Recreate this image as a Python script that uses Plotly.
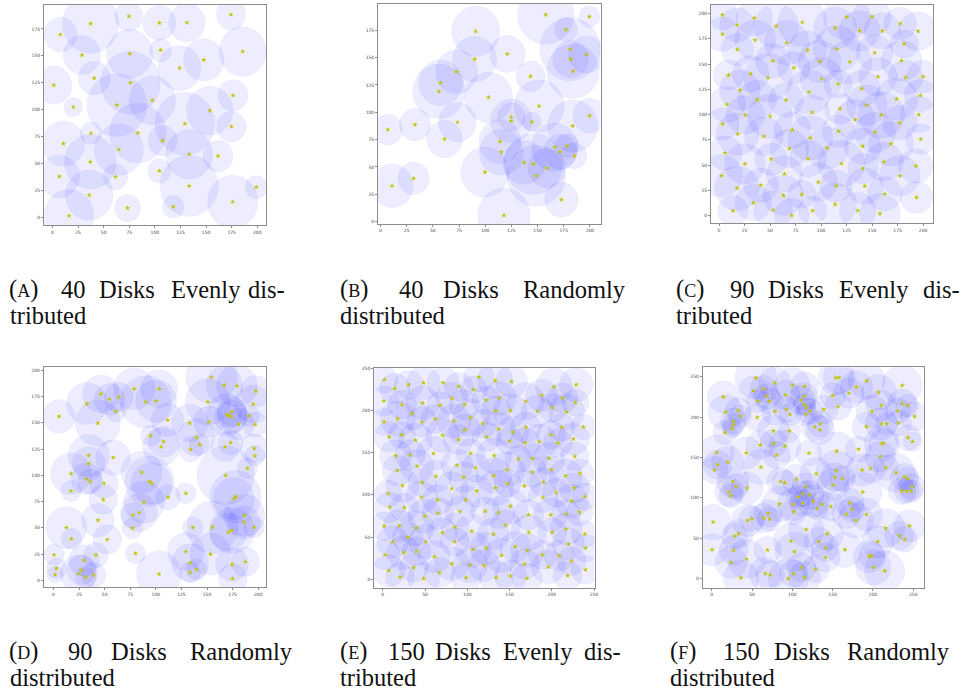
import plotly.graph_objects as go

# ---------------- data ----------------
TICKS_200 = [0, 25, 50, 75, 100, 125, 150, 175, 200]
TICKS_175 = [0, 25, 50, 75, 100, 125, 150, 175]
TICKS_250 = [0, 50, 100, 150, 200, 250]

A_x = [74.6, 174.4, 37.3, 104.4, 131.3, 7.8, 28.8, 75.5, 105.7, 185.7, 147.8, 124.1, 40.8, 76.2, 1.3, 176.3, 97.6, 20.4, 62.9, 153.6,
       129.3, 174.7, 37.6, 83.3, 10.7, 107.6, 64.8, 37.0, 133.5, 161.7, 6.8, 61.6, 104.4, 133.5, 36.0, 199.0, 176.0, 118.0, 73.3, 16.2]
A_y = [186.7, 188.3, 179.9, 180.6, 180.9, 169.8, 150.6, 151.9, 155.2, 154.0, 146.3, 138.6, 129.3, 125.0, 122.8, 113.3, 108.6, 102.5, 104.3, 99.1,
       87.0, 84.3, 78.1, 78.4, 68.5, 71.3, 63.0, 51.5, 58.6, 56.8, 38.0, 37.7, 43.2, 29.3, 20.7, 28.1, 14.5, 9.9, 8.6, 1.5]
A_r = [13.6, 14.3, 27.6, 16.2, 17.8, 16.2, 18.2, 22.7, 10.7, 23.0, 19.8, 21.1, 15.6, 29.2, 17.8, 14.6, 22.7, 9.1, 29.2, 22.7,
       29.2, 14.3, 10.4, 27.6, 21.0, 14.3, 24.0, 25.3, 23.0, 14.6, 19.8, 12.0, 11.3, 28.5, 23.3, 10.7, 24.6, 10.4, 12.6, 24.3]

B_x = [157.8, 199.4, 91.0, 177.2, 181.0, 121.1, 196.8, 90.0, 181.6, 183.8, 72.6, 143.3, 57.4, 55.8, 103.3, 151.5, 199.7, 124.9, 124.9, 144.5,
       73.5, 33.0, 7.0, 183.5, 61.2, 114.1, 178.1, 166.4, 115.4, 171.5, 185.1, 137.2, 146.1, 159.1, 99.8, 148.7, 31.7, 11.1, 172.7, 117.9]
B_y = [189.3, 187.5, 174.1, 175.6, 157.7, 153.4, 152.8, 148.6, 148.6, 137.6, 137.0, 132.8, 127.0, 119.1, 113.6, 105.7, 96.9, 95.7, 92.1, 91.2,
       90.9, 88.7, 84.2, 87.5, 75.4, 73.2, 69.3, 68.1, 63.5, 63.8, 60.2, 54.1, 52.9, 48.9, 45.3, 41.9, 39.5, 32.8, 20.1, 5.8]
B_r = [27, 10, 23, 11, 29, 17, 17, 21, 17, 25, 20, 14, 21, 25, 23, 24, 16, 13, 20, 9,
       18, 15, 14, 24, 17, 20, 11, 22, 21, 16, 12, 20, 28, 18, 23, 28, 15, 20, 16, 25]

C_x = [3.3, 34.5, 125.2, 149.9, 17.6, 56.3, 81.6, 113.8, 137.6, 160.0, 177.6, 195.1,
       3.3, 35.4, 66.3, 181.5, 17.9, 86.5, 115.4, 152.5, 52.7, 98.5, 128.1, 178.9,
       73.2, 9.4, 30.9, 48.1, 100.5, 155.8, 182.8, 200.0, 116.7, 20.5, 139.8, 88.1,
       37.4, 65.7, 174.0, 197.4, 7.8, 144.7, 118.7, 91.4, 25.7, 50.1, 159.0, 195.8,
       3.6, 133.3, 177.2, 18.2, 43.9, 71.9, 89.4, 117.1, 152.8, 197.7,
       5.9, 68.9, 106.0, 140.8, 168.5,
       25.4, 51.1, 87.2, 120.0, 161.6, 192.8,
       2.3, 64.1, 141.1, 177.2,
       97.2, 17.6, 41.0, 114.8, 142.8,
       63.1, 81.0, 162.3,
       33.5, 113.8, 193.5,
       13.7, 53.0, 71.2, 91.7, 135.9, 157.7]
C_y = [198.7, 195.7, 196.7, 197.0, 188.8, 187.5, 191.4, 185.5, 182.9, 182.9, 190.1, 182.6,
       179.6, 173.7, 171.1, 170.1, 164.5, 163.8, 165.1, 161.2, 153.3, 152.6, 152.3, 153.3,
       146.4, 139.1, 140.5, 136.5, 135.5, 137.5, 136.8, 137.5, 130.3, 124.3, 125.7, 122.4,
       114.8, 114.5, 115.5, 118.8, 110.2, 109.5, 105.9, 102.3, 99.7, 98.4, 99.7, 100.0,
       90.8, 95.1, 92.1, 80.9, 78.6, 84.9, 77.0, 83.6, 82.6, 75.7,
       62.2, 66.4, 67.1, 68.8, 71.1,
       51.3, 55.9, 56.3, 51.6, 53.3, 49.3,
       39.5, 41.4, 46.7, 39.5,
       33.2, 27.3, 30.3, 29.6, 29.3,
       20.1, 21.1, 21.7,
       12.8, 11.2, 18.1,
       4.9, 5.6, 0.0, 4.9, 4.9, 2.0]
C_r = [15, 18, 23, 19, 17, 22, 24, 21, 20, 18, 16, 19,
       17, 20, 22, 14, 16, 19, 23, 18, 17, 21, 22, 20,
       16, 15, 18, 24, 21, 19, 17, 16, 14, 20, 18, 22,
       19, 17, 21, 16, 18, 20, 15, 17, 19, 22, 23, 18,
       16, 20, 17, 21, 19, 18, 22, 16, 20, 15,
       17, 19, 21, 18, 22,
       20, 16, 18, 23, 19, 17,
       21, 18, 15, 20,
       19, 22, 17, 16, 18,
       20, 14, 17,
       18, 21, 16,
       15, 19, 17, 14, 18, 20]

D_x = [154.3, 166.9, 179.3, 197.7, 78.8, 103.4, 46.4, 54.8, 63.8, 90.1, 100.2, 150.7, 32.7, 195.1, 60.9, 5.5, 169.2, 174.4, 171.5, 173.4,
       191.2, 111.5, 43.4, 133.2, 151.7, 180.9, 197.1, 95.0, 139.7, 107.6, 142.6, 105.3, 173.1, 167.6, 133.9, 196.1, 34.4, 58.3, 196.8, 34.4,
       189.3, 86.2, 17.2, 168.2,
       32.4, 35.7, 49.3, 93.7, 95.9,
       17.2, 129.3, 111.8, 178.0, 176.3, 48.6, 88.5,
       83.6, 77.8, 186.4, 186.1, 43.4,
       12.6, 77.1, 136.1, 155.3, 196.1, 174.4, 170.8,
       17.5, 52.5,
       0.6, 80.1, 129.3, 153.3, 41.5, 29.8,
       2.9, 133.5, 187.4, 174.4, 27.2, 139.7,
       25.0, 1.6, 39.2, 31.4, 103.1, 133.5, 175.0]
D_y = [193.6, 185.9, 185.3, 180.1, 182.4, 182.4, 177.6, 172.4, 174.4, 169.9, 170.8, 169.9, 168.3, 167.8, 160.9, 156.1, 157.7, 160.6, 157.1, 155.8,
       156.7, 152.6, 149.7, 149.7, 151.0, 148.7, 148.4, 137.8, 136.2, 132.1, 129.2, 127.2, 131.1, 127.2, 124.7, 125.6, 118.9, 117.0, 118.6, 111.2,
       106.7, 102.9, 101.6, 100.0,
       96.8, 94.0, 92.4, 94.3, 92.4,
       85.1, 82.9, 79.1, 79.7, 77.8, 76.9, 74.4,
       64.6, 62.0, 62.0, 55.4, 57.3,
       50.3, 49.7, 50.3, 50.6, 50.6, 47.5, 45.9,
       39.6, 38.9,
       24.4, 25.6, 27.5, 25.0, 24.1, 19.0,
       11.4, 16.8, 17.7, 15.2, 9.8, 10.4,
       6.3, 5.4, 5.1, 3.2, 6.0, 7.6, 1.6]
D_r = [25, 18, 20, 15, 20, 18, 18, 15, 14, 25, 20, 22, 20, 18, 10, 16, 20, 14, 12, 16,
       10, 16, 22, 18, 15, 15, 12, 10, 18, 15, 10, 18, 12, 14, 12, 14, 20, 17, 10, 16,
       10, 20, 20, 28,
       15, 12, 14, 24, 20,
       10, 10, 12, 25, 20, 14, 20,
       18, 12, 20, 16, 16,
       20, 10, 10, 25, 10, 22, 18,
       10, 14,
       10, 10, 18, 20, 12, 15,
       10, 18, 14, 16, 14, 10,
       18, 8, 12, 10, 22, 10, 14]

E_x = [2.0, 14.1, 30.6, 48.3, 71.4, 89.9, 107.5, 113.8, 133.0, 152.3, 202.5, 228.8,
       1.2, 22.8, 47.1, 67.9, 81.6, 96.5, 122.4, 137.7, 169.1, 187.9, 212.6, 200.8, 227.9,
       34.5, 17.7, 1.6, 46.3, 62.0, 84.0, 104.0, 133.8, 151.0, 182.8, 217.7,
       118.3, 96.8, 137.0, 169.1, 211.4, 237.3,
       7.5, 22.4, 70.6, 153.7, 199.2,
       38.8, 89.5, 123.1, 225.5,
       149.8, 168.3, 185.1, 207.1,
       15.3, 32.2, 60.0, 103.9, 131.8, 160.5, 177.1, 196.8, 227.2,
       17.0, 40.4, 87.7, 109.9, 147.0, 176.6, 199.2, 233.2,
       23.2, 46.7, 62.8, 95.8, 131.5, 147.6, 167.6, 190.3, 216.2, 226.5,
       6.3, 45.9, 65.1, 81.6, 98.1, 111.1, 133.4, 189.6, 205.3, 223.3, 239.0,
       8.2, 25.5, 49.8, 65.1, 91.4, 121.3, 137.0, 151.1, 172.3, 198.6, 216.6, 232.7,
       1.6, 19.6, 39.6, 70.6, 85.2, 105.2, 130.7, 145.2, 172.7, 200.5, 217.0, 239.0,
       11.8, 29.4, 50.6, 85.2, 106.8, 122.4, 156.6, 171.1, 189.2, 219.8, 239.8,
       2.7, 24.7, 40.0, 61.2, 140.5, 208.8, 223.3,
       7.1, 36.5, 67.1, 81.6, 103.2, 119.7, 167.6, 195.8, 239.8,
       20.4, 48.3, 98.5, 134.2, 151.1, 170.7, 218.6]
E_y = [236.6, 225.9, 230.6, 232.6, 232.6, 228.3, 224.7, 239.7, 235.4, 234.2, 227.9, 230.6,
       211.3, 206.9, 208.9, 206.1, 214.4, 206.9, 212.1, 214.4, 210.9, 218.0, 214.8, 203.4, 209.3,
       196.2, 190.3, 186.4, 186.4, 189.9, 187.5, 191.5, 199.4, 199.8, 199.0, 198.2,
       184.4, 176.9, 178.1, 180.0, 180.0, 180.4,
       168.6, 171.0, 170.6, 174.1, 171.0,
       164.7, 165.4, 168.6, 166.2,
       163.5, 161.5, 163.0, 161.5,
       146.4, 147.2, 149.2, 149.2, 146.4, 142.5, 142.9, 143.3, 145.6,
       128.9, 134.1, 135.3, 132.1, 129.8, 127.0, 129.8, 125.5,
       111.0, 114.6, 122.0, 120.9, 122.8, 113.4, 110.6, 115.0, 122.4, 108.3,
       101.6, 97.2, 94.1, 107.5, 94.1, 104.7, 108.3, 96.9, 102.8, 92.5, 98.0,
       85.4, 85.0, 74.8, 78.3, 80.3, 80.7, 79.1, 86.6, 76.4, 76.4, 77.6, 79.5,
       63.0, 63.4, 60.6, 55.1, 61.8, 57.1, 53.5, 64.2, 55.5, 55.5, 59.8, 53.5,
       44.5, 49.6, 44.5, 44.5, 35.4, 37.0, 38.6, 33.9, 29.1, 41.7, 37.0,
       29.1, 31.5, 33.1, 26.8, 28.3, 28.0, 21.7,
       10.2, 13.8, 7.9, 18.5, 16.9, 16.5, 18.1, 14.6, 11.4,
       2.8, 0.8, 2.0, 2.0, 3.9, 1.2, 4.3]
E_r = [16, 18, 17, 20, 19, 17, 16, 18, 21, 19, 22, 20,
       18, 17, 20, 16, 19, 18, 17, 20, 22, 19, 18, 17, 16,
       19, 21, 16, 18, 17, 20, 22, 18, 20, 19, 21,
       17, 19, 20, 18, 16, 15,
       18, 16, 20, 19, 17,
       20, 18, 17, 19,
       16, 18, 21, 17,
       19, 18, 20, 17, 21, 16, 18, 19, 17,
       18, 20, 19, 17, 21, 18, 16, 17,
       20, 17, 19, 18, 21, 16, 19, 17, 20, 18,
       16, 19, 18, 20, 17, 19, 21, 18, 17, 20, 16,
       18, 17, 20, 19, 18, 17, 19, 21, 18, 20, 17, 16,
       17, 19, 21, 18, 17, 20, 19, 18, 21, 17, 19, 16,
       19, 18, 20, 17, 21, 19, 18, 20, 17, 19, 16,
       18, 20, 17, 19, 20, 18, 17,
       19, 17, 18, 20, 21, 19, 18, 20, 17,
       17, 19, 18, 20, 19, 18, 17]

F_x = [54.8, 154.0, 158.1, 78.3, 100.5, 115.4, 192.3, 236.4,
       51.5, 64.3, 179.6,
       14.4, 68.4, 91.5, 114.5, 149.9, 170.1, 207.1,
       57.2, 71.6, 110.8, 114.9, 117.4, 121.9, 116.9,
       156.9, 210.5, 236.4, 243.0,
       92.3, 78.7, 97.2, 138.8, 198.9, 230.6,
       17.3, 32.9, 35.4, 56.4, 251.6,
       26.8, 27.2, 25.1, 16.5,
       128.1, 134.7, 134.3, 210.5, 217.1, 231.9, 191.9,
       76.6, 96.4, 243.4, 249.2,
       60.5, 77.0, 90.6, 211.3, 212.9, 182.0,
       6.2, 42.8, 80.6, 120.6, 154.9, 209.2,
       19.8, 7.4, 3.3, 61.0, 154.4, 186.6, 197.3, 216.2, 228.6, 129.7,
       238.9, 243.4, 26.4, 30.1, 21.4, 23.9, 43.7, 85.3, 90.6, 105.4,
       152.8, 162.3, 150.3, 116.6, 112.8, 107.1, 121.5, 126.0, 112.8, 137.1, 130.5, 147.9, 100.9, 101.7, 84.4,
       187.4, 171.3, 173.8, 167.2, 191.9, 178.7,
       236.0, 241.8, 248.4, 247.5,
       44.5, 49.8, 64.7, 70.0, 71.7, 1.6,
       117.4, 143.3, 33.4, 28.4, 215.8, 245.5, 232.7, 239.3,
       98.4, 133.0, 205.9, 140.9, 102.6, 165.2, 0.4, 27.2, 69.2,
       141.3, 195.6, 198.5, 43.2, 23.9, 200.6, 111.6, 128.9, 214.6,
       66.3, 72.5, 101.3, 36.2, 95.1, 115.3]
F_y = [248.4, 248.8, 248.8, 242.2, 239.3, 238.1, 245.1, 239.3,
       232.8, 234.8, 237.3,
       225.0, 225.8, 227.5, 225.8, 226.6, 229.5, 230.7,
       219.7, 219.7, 220.9, 215.6, 211.9, 207.4, 203.3,
       213.1, 214.3, 216.8, 214.3,
       209.4, 207.0, 203.3, 209.4, 207.0, 207.8,
       205.7, 208.2, 201.2, 199.6, 200.8,
       195.1, 190.6, 185.7, 180.7,
       187.7, 191.4, 184.0, 191.4, 191.8, 192.6, 188.1,
       182.8, 182.8, 174.6, 169.7,
       165.6, 167.6, 163.9, 167.2, 167.6, 160.2,
       156.1, 155.7, 152.9, 155.3, 157.8, 151.2,
       144.3, 141.0, 134.4, 138.1, 133.6, 134.4, 136.5, 137.3, 131.1, 129.9,
       125.9, 123.9, 120.2, 114.0, 107.4, 102.5, 111.9, 120.2, 118.5, 123.0,
       125.5, 123.9, 116.0, 114.0, 105.3, 101.2, 103.7, 95.9, 93.4, 91.8, 86.8, 89.3, 91.8, 82.7, 92.2,
       107.4, 93.8, 86.0, 79.8, 79.4, 72.0,
       108.6, 108.2, 114.0, 108.2,
       72.0, 74.1, 74.9, 80.7, 73.7, 70.0,
       60.9, 55.6, 55.6, 52.7, 62.6, 65.4, 53.1, 48.6,
       46.5, 45.7, 45.7, 38.3, 33.3, 35.8, 35.8, 35.0, 35.4,
       26.3, 27.2, 28.4, 24.3, 20.2, 14.0, 14.0, 11.5, 9.5,
       6.2, 4.5, 6.2, 0.8, 0.0, 1.2]
F_r = [26, 22, 20, 20, 22, 18, 23, 25,
       18, 17, 20,
       20, 16, 18, 17, 16, 19, 22,
       14, 16, 18, 14, 12, 16, 14,
       17, 19, 18, 14,
       16, 17, 14, 18, 20, 16,
       22, 16, 14, 17, 18,
       16, 14, 12, 15,
       17, 16, 18, 20, 14, 16, 18,
       20, 14, 16, 12,
       18, 17, 20, 22, 18, 16,
       22, 20, 17, 16, 24, 19,
       20, 18, 17, 22, 25, 20, 18, 16, 24, 20,
       17, 14, 20, 16, 18, 15, 20, 17, 16, 19,
       18, 16, 20, 17, 16, 14, 18, 20, 16, 17, 14, 18, 20, 16, 22,
       24, 18, 16, 18, 20, 22,
       17, 15, 16, 14,
       20, 16, 18, 17, 15, 22,
       22, 20, 18, 16, 24, 20, 18, 16,
       22, 18, 20, 17, 24, 22, 20, 18, 17,
       18, 20, 16, 24, 20, 22, 18, 17, 25,
       20, 18, 17, 22, 25, 20]

CAPTIONS = [
    ["(A)", "40", "Disks", "Evenly", "dis-"], ["tributed"],
    ["(B)", "40", "Disks", "Randomly"], ["distributed"],
    ["(C)", "90", "Disks", "Evenly", "dis-"], ["tributed"],
    ["(D)", "90", "Disks", "Randomly"], ["distributed"],
    ["(E)", "150", "Disks", "Evenly", "dis-"], ["tributed"],
    ["(F)", "150", "Disks", "Randomly"], ["distributed"],
]

# ---------------- layout ----------------
W, H = 970, 694

panels = [
    dict(x=A_x, y=A_y, r=A_r, box=(44.3, 267.3, 2.7, 224.0), xr=(-8.1, 208.7), yr=(-7.4, 197.5), xt=TICKS_200, yt=TICKS_175),
    dict(x=B_x, y=B_y, r=B_r, box=(379.7, 603.0, 1.7, 222.7), xr=(-2.2, 210.1), yr=(-2.2, 199.3), xt=TICKS_200, yt=TICKS_175),
    dict(x=C_x, y=C_y, r=C_r, box=(714.0, 937.0, 2.7, 222.0), xr=(-7.8, 209.8), yr=(-7.6, 208.8), xt=TICKS_200, yt=TICKS_200),
    dict(x=D_x, y=D_y, r=D_r, box=(44.0, 267.0, 366.0, 587.0), xr=(-9.4, 207.5), yr=(-6.6, 203.2), xt=TICKS_200, yt=TICKS_200),
    dict(x=E_x, y=E_y, r=E_r, box=(375.7, 597.0, 366.7, 587.3), xr=(-10.2, 250.5), yr=(-9.8, 250.7), xt=TICKS_250, yt=TICKS_250),
    dict(x=F_x, y=F_y, r=F_r, box=(705.7, 928.0, 366.3, 587.3), xr=(-11.1, 263.6), yr=(-11.1, 261.7), xt=TICKS_250, yt=TICKS_250),
]

fig = go.Figure()
shapes = []
CIRCLE_FILL = "rgba(0,0,255,0.07)"
AX_COLOR = "#8c8c8c"

for i, p in enumerate(panels):
    sfx = "" if i == 0 else str(i + 1)
    xa, ya = "x" + sfx, "y" + sfx
    l, r, t, b = p["box"]
    fig.add_trace(go.Scatter(
        x=p["x"], y=p["y"], mode="markers", xaxis=xa, yaxis=ya,
        marker=dict(symbol="star", size=4, color="#c4c400", line=dict(width=0)),
        hoverinfo="skip", showlegend=False))
    for cx, cy, rad in zip(p["x"], p["y"], p["r"]):
        shapes.append(dict(type="circle", xref=xa, yref=ya, layer="below",
                           x0=cx - rad, x1=cx + rad, y0=cy - rad, y1=cy + rad,
                           fillcolor=CIRCLE_FILL,
                           line=dict(width=0.6, color="rgba(0,0,255,0.06)")))
    common = dict(showline=True, mirror=True, linecolor=AX_COLOR, linewidth=1,
                  ticks="outside", ticklen=2, tickwidth=0.8, tickcolor=AX_COLOR,
                  showgrid=False, zeroline=False,
                  tickfont=dict(family="DejaVu Sans", size=4.5, color="#444"))
    fig.layout["xaxis" + sfx] = dict(domain=[l / W, r / W], range=list(p["xr"]), anchor=ya,
                                     tickvals=p["xt"], **common)
    fig.layout["yaxis" + sfx] = dict(domain=[1 - b / H, 1 - t / H], range=list(p["yr"]), anchor=xa,
                                     tickvals=p["yt"], **common)

# captions: word left positions (px) on first line; last word right-aligned at line end
line1_pos = [
    ([8, 60, 98, 171], 287), ([340, 400, 444], 630), ([678, 732, 770, 841], 965),
    ([8, 67, 110], 295), ([340, 389, 436, 504], 625), ([672, 725, 776], 955),
]
line1_y = [288, 288, 288, 651, 651, 651]
line2_y = [314, 314, 314, 677, 677, 677]
line2_x = [9, 340, 678, 9, 340, 672]

annotations = []
FONT = dict(family="Liberation Serif, DejaVu Serif, serif", size=24.5, color="#111")
for k in range(6):
    words = CAPTIONS[2 * k]
    lefts, right_end = line1_pos[k]
    for j, w in enumerate(words):
        txt = w
        if j == 0:
            txt = "(<span style='font-size:18px'>" + w[1] + "</span>)"
        last = j == len(words) - 1
        annotations.append(dict(x=(right_end if last else lefts[j]) / W, y=1 - line1_y[k] / H,
                                xref="paper", yref="paper", text=txt, showarrow=False,
                                xanchor="right" if last else "left", yanchor="middle",
                                font=FONT, borderpad=0))
    annotations.append(dict(x=line2_x[k] / W, y=1 - line2_y[k] / H, xref="paper", yref="paper",
                            text=CAPTIONS[2 * k + 1][0], showarrow=False, xanchor="left", yanchor="middle",
                            font=FONT, borderpad=0))

fig.update_layout(width=W, height=H, margin=dict(l=0, r=0, t=0, b=0),
                  paper_bgcolor="white", plot_bgcolor="white",
                  shapes=shapes, annotations=annotations, showlegend=False)

fig.write_html("out.html", config={"displayModeBar": False},
               post_script="document.body.style.margin='0px';")
